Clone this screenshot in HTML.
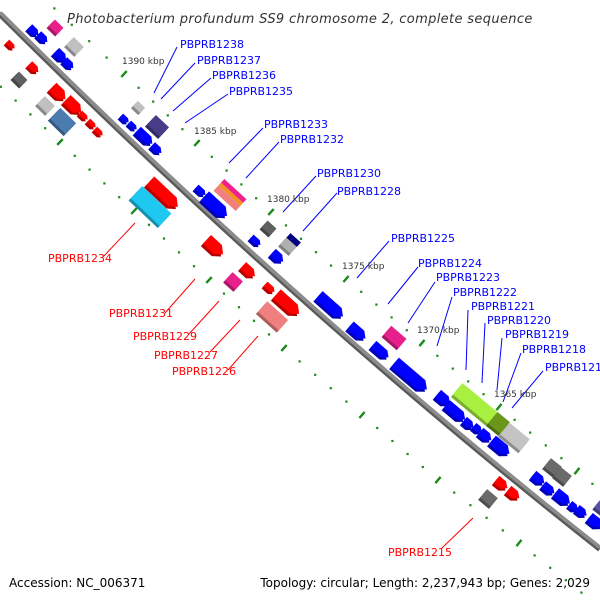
<!DOCTYPE html>
<html><head><meta charset="utf-8">
<style>
html,body{margin:0;padding:0;background:#fff;width:600px;height:600px;overflow:hidden}
svg{display:block}
.lb{font-family:"DejaVu Sans","Liberation Sans",sans-serif;font-size:11px}
.kb{font-family:"DejaVu Sans","Liberation Sans",sans-serif;font-size:9px;fill:#333}
</style></head><body>
<svg id="s" width="600" height="600" viewBox="0 0 600 600" xmlns="http://www.w3.org/2000/svg">
<g id="ticks"></g>
<path d="M0,14 Q300,312.5 600,549" fill="none" stroke="#5a5a5a" stroke-width="6"/>
<path d="M0,12.5 Q300,311 600,547.5" fill="none" stroke="#8c8c8c" stroke-width="3.5"/>
<g id="genes"></g>
<g id="lines" stroke-width="1"></g>
<text x="67" y="23" font-family="DejaVu Sans, Liberation Sans, sans-serif" font-style="italic" font-size="13" letter-spacing="0.35" fill="#333">Photobacterium profundum SS9 chromosome 2, complete sequence</text>
<g class="kb">
<text x="122" y="64">1390 kbp</text>
<text x="194" y="134">1385 kbp</text>
<text x="267" y="202">1380 kbp</text>
<text x="342" y="269">1375 kbp</text>
<text x="417" y="333">1370 kbp</text>
<text x="494" y="397">1365 kbp</text>
</g>
<g class="lb" fill="#0000ff">
<text x="180" y="48">PBPRB1238</text>
<text x="197" y="64">PBPRB1237</text>
<text x="212" y="79">PBPRB1236</text>
<text x="229" y="95">PBPRB1235</text>
<text x="264" y="128">PBPRB1233</text>
<text x="280" y="143">PBPRB1232</text>
<text x="317" y="177">PBPRB1230</text>
<text x="337" y="195">PBPRB1228</text>
<text x="391" y="242">PBPRB1225</text>
<text x="418" y="267">PBPRB1224</text>
<text x="436" y="281">PBPRB1223</text>
<text x="453" y="296">PBPRB1222</text>
<text x="471" y="310">PBPRB1221</text>
<text x="487" y="324">PBPRB1220</text>
<text x="505" y="338">PBPRB1219</text>
<text x="522" y="353">PBPRB1218</text>
<text x="545" y="371">PBPRB1217</text>
</g>
<g class="lb" fill="#ff0000">
<text x="48" y="262">PBPRB1234</text>
<text x="109" y="317">PBPRB1231</text>
<text x="133" y="340">PBPRB1229</text>
<text x="154" y="359">PBPRB1227</text>
<text x="172" y="375">PBPRB1226</text>
<text x="388" y="556">PBPRB1215</text>
</g>
<g font-family="DejaVu Sans, Liberation Sans, sans-serif" font-size="12" fill="#000">
<text x="9" y="587">Accession: NC_006371</text>
<text x="590" y="587" text-anchor="end">Topology: circular; Length: 2,237,943 bp; Genes: 2,029</text>
</g>
</svg>
<script>
var NS="http://www.w3.org/2000/svg";
function el(p,t,a){var e=document.createElementNS(NS,t);for(var k in a)e.setAttribute(k,a[k]);p.appendChild(e);return e;}
function slope(x){var t=x/600;return (597-124*t)/600;}
var tk=document.getElementById('ticks');
function row(d){
 for(var i=0;i<d.length-1;i++){
  for(var j=0;j<5;j++){
   var x=d[i][0]+(d[i+1][0]-d[i][0])*j/5, y=d[i][1]+(d[i+1][1]-d[i][1])*j/5;
   if(j==0){var a=Math.atan(slope(x))*180/Math.PI;
     el(tk,'rect',{x:x-4,y:y-1.2,width:8,height:2.4,fill:'#1a8a1a',transform:'rotate('+(a-90)+' '+x+' '+y+')'});}
   else el(tk,'rect',{x:x-1.1,y:y-1.1,width:2.2,height:2.2,fill:'#1a8a1a'});
  }
 }
}
row([[37,-8],[124,74],[197,143],[271,212],[346,279],[422,343],[499,407],[577,471],[654,535]]);
row([[-14,73],[60,142],[134,211],[209,280],[284,348],[362,415],[438,480],[519,543],[597,605]]);
var ln=document.getElementById('lines');
var B=[[177,47,154,93],[195,63,161,99],[211,78,173,111],[228,94,185,123],[263,128,229,163],[279,142,246,178],[316,176,283,212],[337,193,303,231],[389,241,357,278],[418,267,388,304],[435,282,408,323],[452,297,437,346],[468,310,466,370],[485,323,482,383],[502,338,497,390],[521,353,503,402],[543,371,512,408]];
B.forEach(function(b){el(ln,'line',{x1:b[0],y1:b[1],x2:b[2],y2:b[3],stroke:'#0000ff'});});
var R=[[103,257,135,223],[165,313,195,279],[189,334,219,301],[210,352,240,320],[228,370,258,336],[442,548,473,518]];
R.forEach(function(b){el(ln,'line',{x1:b[0],y1:b[1],x2:b[2],y2:b[3],stroke:'#ff0000'});});
var gg=document.getElementById('genes');
function shade(c,f){var n=parseInt(c.slice(1),16),r=n>>16,g=(n>>8)&255,b=n&255;
 r=Math.round(r*f);g=Math.round(g*f);b=Math.round(b*f);return 'rgb('+Math.min(255,r)+','+Math.min(255,g)+','+Math.min(255,b)+')';}
function shape(L,W,y0,arrow){
 var x0=-L/2,x1=L/2,ya=y0-W/2,yb=y0+W/2;
 if(!arrow) return x0+','+ya+' '+x1+','+ya+' '+x1+','+yb+' '+x0+','+yb;
 var h=Math.min(L*0.45,W*0.6);
 return x0+','+ya+' '+(x1-h)+','+ya+' '+x1+','+y0+' '+(x1-h)+','+yb+' '+x0+','+yb;
}
function G(cx,cy,L,W,c,arrow){
 var a=Math.atan(slope(cx))*180/Math.PI;
 var g=el(gg,'g',{transform:'translate('+cx+' '+cy+') rotate('+a+')'});
 el(g,'polygon',{points:shape(L,W-3,1.5,arrow),fill:shade(c,0.72)});
 el(g,'polygon',{points:shape(L,W-3,-1.5,arrow),fill:c});
}
var F=[
[33,32,12,10,'#0000ff',1],[42,39,12,10,'#0000ff',1],[55,28,12,12,'#e8208c',0],[74,47,14,14,'#c0c0c0',0],
[60,57,14,12,'#0000ff',1],[68,65,12,10,'#0000ff',1],[10,46,10,8,'#ff0000',1],[33,69,12,10,'#ff0000',1],
[19,80,12,12,'#606060',0],[58,94,18,14,'#ff0000',1],[45,106,14,14,'#c0c0c0',0],[73,107,20,14,'#ff0000',1],
[62,122,22,18,'#4a7cb0',0],[83,117,10,8,'#ff0000',1],[91,125,10,8,'#ff0000',1],[98,133,10,8,'#ff0000',1],
[138,108,10,10,'#c0c0c0',0],[124,120,10,8,'#0000ff',1],[132,127,10,8,'#0000ff',1],[157,127,18,16,'#463c88',0],
[144,138,20,12,'#0000ff',1],[156,150,12,10,'#0000ff',1],
[150,207,40,20,'#1ec8f0',0],[163,195,38,15,'#ff0000',1],[200,192,12,9,'#0000ff',1],
[215,207,30,15,'#0000ff',1],[268,229,12,12,'#606060',0],[255,242,12,9,'#0000ff',1],
[288,246,14,14,'#b0b0b0',0],[277,258,14,12,'#0000ff',1],[214,248,22,15,'#ff0000',1],[248,272,16,12,'#ff0000',1],
[233,282,14,14,'#e8208c',0],[269,289,12,9,'#ff0000',1],[287,305,30,15,'#ff0000',1],[272,317,28,17,'#f08080',0],
[330,307,32,14,'#0000ff',1],[357,333,20,13,'#0000ff',1],[394,338,20,15,'#e8208c',0],[380,352,20,12,'#0000ff',1],
[410,377,42,15,'#0000ff',1],[443,400,16,13,'#0000ff',1],[455,413,24,13,'#0000ff',1],[468,425,12,11,'#0000ff',1],
[477,430,10,10,'#0000ff',1],[485,437,14,12,'#0000ff',1],[500,448,22,14,'#0000ff',1],
[476,406,50,18,'#a8f040',0],[498,424,16,18,'#6a961c',0],[514,438,26,18,'#c4c4c4',0],
[552,468,14,14,'#6a6a6a',0],[562,477,14,14,'#6a6a6a',0],[538,480,14,12,'#0000ff',1],[548,490,14,11,'#0000ff',1],
[562,499,18,13,'#0000ff',1],[573,508,10,10,'#0000ff',1],[581,513,12,11,'#0000ff',1],[595,523,16,13,'#0000ff',1],
[600,508,10,12,'#5a50a0',0],[501,485,14,12,'#ff0000',1],[513,495,14,12,'#ff0000',1],[488,499,14,14,'#6a6a6a',0]
];
F.forEach(function(f){G(f[0],f[1],f[2],f[3],f[4],f[5]);});
(function(){var cx=230,cy=195,a=Math.atan(slope(cx))*180/Math.PI;
 var g=el(gg,'g',{transform:'translate('+cx+' '+cy+') rotate('+a+')'});
 el(g,'rect',{x:-15,y:-8,width:30,height:5,fill:'#f0208c'});
 el(g,'rect',{x:-15,y:-3,width:30,height:4,fill:'#f49020'});
 el(g,'rect',{x:-15,y:1,width:30,height:7,fill:'#f08080'});
})();
(function(){var cx=291,cy=243,a=Math.atan(slope(cx))*180/Math.PI;
 var g=el(gg,'g',{transform:'translate('+cx+' '+cy+') rotate('+a+')'});
 el(g,'rect',{x:-7,y:-7,width:14,height:6,fill:'#000080'});
})();
</script>
</body></html>
